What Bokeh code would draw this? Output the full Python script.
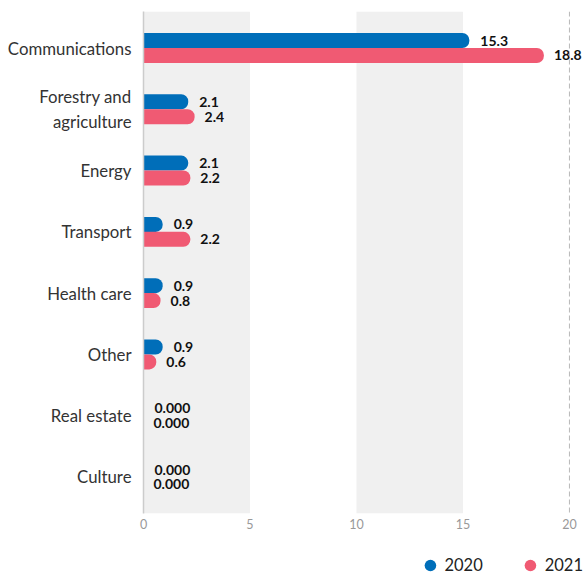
from bokeh.plotting import figure
from bokeh.layouts import column
from bokeh.models import (ColumnDataSource, FactorRange, Range1d, Legend, LegendItem,
                          Span, FixedTicker, BoxAnnotation)
from bokeh.transform import dodge
from bokeh.core.properties import value
from bokeh.embed import file_html
from bokeh.resources import INLINE

categories = ["Communications", "Forestry and\nagriculture", "Energy", "Transport",
              "Health care", "Other", "Real estate", "Culture"]
values_2020 = [15.3, 2.1, 2.1, 0.9, 0.9, 0.9, 0.0, 0.0]
values_2021 = [18.8, 2.4, 2.2, 2.2, 0.8, 0.6, 0.0, 0.0]
series_names = ["2020", "2021"]
x_ticks = [0, 5, 10, 15, 20]

BLUE = "#006eb9"
RED = "#f05a73"
FONT = "Lato"


def fmt(v):
    return "0.000" if v == 0 else f"{v:.1f}"


src = ColumnDataSource(dict(
    cat=categories,
    v20=values_2020,
    v21=values_2021,
    l20=[fmt(v) for v in values_2020],
    l21=[fmt(v) for v in values_2021],
))

yr = FactorRange(factors=list(reversed(categories)), range_padding=0.024)

p = figure(frame_width=440, frame_height=502, y_range=yr, x_range=Range1d(0, 20.66),
           output_backend="svg", toolbar_location=None,
           min_border_left=143, min_border_right=0, min_border_top=11,
           min_border_bottom=37)
p.outline_line_color = None
p.background_fill_color = "white"
p.xgrid.grid_line_color = None
p.ygrid.grid_line_color = None

# alternating grey bands (0-5, 10-15)
for lo, hi in zip(x_ticks[0::2], x_ticks[1::2]):
    p.add_layout(BoxAnnotation(left=lo, right=hi, fill_color="#f0f0f0", fill_alpha=1.0,
                               line_color=None, level="underlay"))
p.add_layout(Span(location=x_ticks[-1], dimension="height", line_color="#b8b8b8",
                  line_dash="5 3", line_width=1, level="overlay"))

bh = 0.245
r20 = p.hbar(y=dodge("cat", 0.122, range=yr), left=0, right="v20", height=bh,
             source=src, fill_color=BLUE, line_color=None,
             border_radius=(0, 7, 7, 0))
r21 = p.hbar(y=dodge("cat", -0.122, range=yr), left=0, right="v21", height=bh,
             source=src, fill_color=RED, line_color=None,
             border_radius=(0, 7, 7, 0))

p.text(x="v20", y=dodge("cat", 0.122, range=yr), text="l20", source=src,
       x_offset=11, text_align="left", text_baseline="middle",
       text_font=value(FONT), text_font_style="bold", text_font_size="14px",
       text_color="#111111")
p.text(x="v21", y=dodge("cat", -0.122, range=yr), text="l21", source=src,
       x_offset=10, text_align="left", text_baseline="middle",
       text_font=value(FONT), text_font_style="bold", text_font_size="14px",
       text_color="#111111")

# axes
p.xaxis.ticker = FixedTicker(ticks=x_ticks)
p.xaxis.axis_line_color = None
p.xaxis.major_tick_line_color = None
p.xaxis.major_tick_out = 0
p.xaxis.minor_tick_line_color = None
p.xaxis.major_label_text_color = "#999999"
p.xaxis.major_label_text_font = FONT
p.xaxis.major_label_text_font_size = "12.5px"
p.xaxis.major_label_standoff = 5

p.yaxis.axis_line_color = "#cccccc"
p.yaxis.axis_line_width = 1.5
p.yaxis.major_tick_line_color = None
p.yaxis.major_tick_out = 0
p.yaxis.minor_tick_line_color = None
p.yaxis.major_label_text_color = "#333333"
p.yaxis.major_label_text_font = FONT
p.yaxis.major_label_text_font_size = "16.8px"
p.yaxis.major_label_standoff = 12

# legend strip below the chart
lg = figure(width=583, height=29, x_range=Range1d(0, 1), y_range=Range1d(0, 1),
            output_backend="svg", toolbar_location=None,
            min_border_left=0, min_border_right=0, min_border_top=0,
            min_border_bottom=0)
lg.axis.visible = False
lg.grid.visible = False
lg.outline_line_color = None
m20 = lg.scatter(x="v20", y="v20", source=src, size=0, marker="circle",
                 fill_color=BLUE, line_color=None)
m21 = lg.scatter(x="v21", y="v21", source=src, size=0, marker="circle",
                 fill_color=RED, line_color=None)
legend = Legend(items=[LegendItem(label=series_names[0], renderers=[m20]),
                       LegendItem(label=series_names[1], renderers=[m21])],
                orientation="horizontal", location="right",
                border_line_color=None, background_fill_alpha=0,
                label_text_font=FONT, label_text_font_size="16.5px",
                label_text_color="#222222", glyph_width=29, glyph_height=29,
                spacing=33, label_standoff=0, margin=0, padding=0)
lg.add_layout(legend)

layout = column(p, lg, spacing=0)
open("out.html", "w").write(file_html(layout, INLINE))
